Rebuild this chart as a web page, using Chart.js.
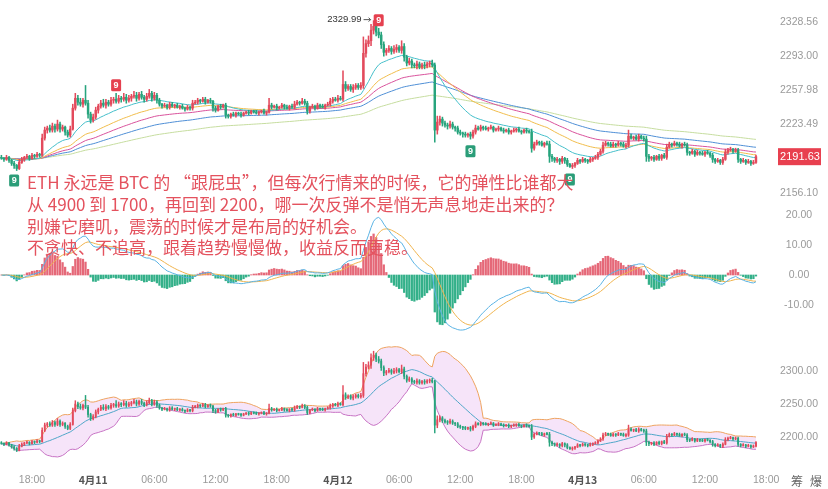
<!DOCTYPE html>
<html>
<head>
<meta charset="utf-8">
<script src="https://cdn.jsdelivr.net/npm/chart.js@4.4.1/dist/chart.umd.min.js"></script>
<style>
  html, body { margin: 0; padding: 0; background: #fff; }
  #wrap { position: relative; width: 828px; height: 489px; overflow: hidden; background: #fff; }
  canvas { position: absolute; left: 0; }
  #note {
    position: absolute; left: 27px; top: 171px;
    font-family: "Noto Sans CJK SC", sans-serif; font-size: 17px; line-height: 21.8px;
    color: #e4525e; white-space: nowrap; pointer-events: none;
  }
</style>
</head>
<body>
<div id="wrap">
  <canvas id="priceChart" width="828" height="200" style="top:0px"></canvas>
  <canvas id="macdChart" width="828" height="140" style="top:200px"></canvas>
  <canvas id="bollChart" width="828" height="149" style="top:340px"></canvas>
  <div id="note">ETH 永远是 BTC 的 “跟屁虫”，但每次行情来的时候，它的弹性比谁都大<br>从 4900 到 1700，再回到 2200，哪一次反弹不是悄无声息地走出来的？<br>别嫌它磨叽，震荡的时候才是布局的好机会。<br>不贪快、不追高，跟着趋势慢慢做，收益反而更稳。</div>
</div>
<script>
// ETH/USDT 15-minute candles, 4/10 15:00 -> 4/13 17:00
const firstHour = 15;        // hours after 4/10 00:00
const stepHours = 0.25;
const firstOpen = 2191;

const closes = [
  2190, 2189, 2191, 2188, 2185, 2183, 2180, 2186, 2189, 2191,
  2192, 2190, 2193, 2192, 2194, 2193, 2210, 2218, 2220, 2218,
  2222, 2219, 2224, 2219, 2221, 2216, 2213, 2219, 2240, 2250,
  2246, 2244, 2248, 2245, 2234, 2228, 2231, 2238, 2242, 2245,
  2243, 2246, 2244, 2248, 2249, 2247, 2250, 2249, 2251, 2248,
  2250, 2252, 2253, 2250, 2254, 2251, 2249, 2252, 2255, 2250,
  2253, 2248, 2244, 2242, 2243, 2241, 2244, 2242, 2243, 2241,
  2242, 2240, 2239, 2241, 2240, 2245, 2246, 2248, 2247, 2249,
  2246, 2248, 2247, 2240, 2238, 2242, 2241, 2243, 2233, 2232,
  2234, 2233, 2235, 2234, 2233, 2235, 2236, 2235, 2237, 2236,
  2235, 2236, 2237, 2235, 2236, 2243, 2241, 2242, 2240, 2241,
  2243, 2241, 2240, 2242, 2241, 2244, 2246, 2245, 2247, 2245,
  2237, 2241, 2242, 2240, 2243, 2242, 2241, 2243, 2244, 2247,
  2249, 2248, 2250, 2249, 2264, 2260, 2262, 2259, 2261, 2263,
  2261, 2263, 2296, 2306, 2309, 2320, 2324, 2318, 2315, 2305,
  2297, 2299, 2301, 2298, 2300, 2302, 2299, 2303, 2292, 2286,
  2288, 2284, 2283, 2285, 2282, 2284, 2283, 2285, 2286, 2284,
  2218, 2226, 2229, 2225, 2223, 2222, 2224, 2221, 2220, 2216,
  2215, 2214, 2213, 2214, 2212, 2216, 2220, 2219, 2221, 2220,
  2219, 2220, 2221, 2218, 2219, 2220, 2218, 2217, 2218, 2216,
  2217, 2218, 2219, 2217, 2216, 2218, 2217, 2216, 2200, 2204,
  2206, 2205, 2203, 2205, 2204, 2192, 2190, 2188, 2189, 2187,
  2190, 2188, 2184, 2182, 2183, 2185, 2188, 2187, 2189, 2188,
  2187, 2189, 2190, 2191, 2194, 2197, 2203, 2205, 2204, 2202,
  2204, 2203, 2205, 2204, 2202, 2203, 2212, 2210, 2211, 2209,
  2212, 2210, 2209, 2192, 2190, 2191, 2189, 2192, 2190, 2193,
  2191, 2201, 2204, 2203, 2205, 2204, 2202, 2204, 2203, 2196,
  2195, 2197, 2194, 2196, 2195, 2194, 2196, 2195, 2193, 2189,
  2187, 2188, 2186, 2189, 2196, 2198, 2199, 2197, 2198, 2189,
  2187, 2188, 2186, 2187, 2185, 2186, 2191.63
];

// wick length above max(open, close)
const upperWicks = [
  2,1,2,1,1,2,1,3,2,1,  2,1,2,1,2,1,4,3,2,3,  3,2,4,2,2,1,2,3,4,5,
  3,4,2,15,3,2,3,3,2,3, 4,3,2,3,2,6,3,2,4,3,  3,2,4,3,2,3,2,3,4,2,
  3,2,2,1,2,1,2,2,1,2,  1,2,1,2,1,3,2,2,1,2,  2,1,2,1,2,1,2,1,2,1,
  1,2,1,1,2,1,1,2,1,1,  2,1,1,2,1,7,2,1,2,1,  2,1,2,1,2,3,2,1,3,2,
  2,1,2,1,2,1,2,1,2,3,  2,2,3,2,14,3,2,2,3,2, 2,3,17,4,5,6,5.99,3,4,3,
  3,2,3,2,4,3,2,6,3,2,  3,2,2,3,2,2,3,2,2,3,  2,6,3,2,2,2,3,2,1,2,
  2,1,2,1,2,2,3,2,2,1,  2,1,2,1,1,2,1,2,1,2,  1,2,1,2,1,1,2,1,3,2,
  2,1,2,1,2,3,2,1,2,1,  2,1,2,1,2,1,2,1,2,1,  1,2,1,2,2,2,3,2,1,2,
  2,1,2,1,2,2,6,2,1,2,  2,1,2,3,2,1,2,1,2,1,  2,3,2,1,2,1,2,1,2,2,
  1,2,1,2,1,2,1,2,1,2,  1,2,1,2,3,2,2,1,2,2,  1,2,1,2,1,2,1.5
];

// wick length below min(open, close)
const lowerWicks = [
  1,2,1,2,2,3,2,1,1,2,  1,2,1,2,1,2,1,2,3,2,  2,3,2,3,2,3,2,2,1,2,
  3,2,3,2,4,3,2,2,3,2,  2,3,2,2,3,2,2,3,2,3,  2,3,2,3,2,2,3,2,2,3,
  2,3,2,2,1,2,2,1,2,1,  2,1,2,1,2,2,1,2,2,1,  2,1,2,3,2,1,2,1,3,2,
  2,1,2,1,2,1,1,2,1,1,  1,2,1,1,2,1,2,1,2,1,  1,2,1,2,1,2,1,2,1,2,
  3,2,1,2,1,2,1,2,1,2,  2,1,2,1,2,3,2,2,3,2,  2,2,3,4,3,5,4,4,3,4,
  4,3,2,3,2,3,2,3,4,3,  2,3,2,3,2,2,3,2,3,2,  12,4,3,3,2,3,2,2,3,2,
  2,3,2,2,3,2,2,1,2,2,  1,2,1,2,1,2,1,2,1,2,  2,1,2,1,2,1,2,1,4,2,
  1,2,1,2,1,6,3,2,2,3,  2,3,2,1,2,2,1,2,1,2,  2,1,2,1,2,1,2,1,2,1,
  1,2,1,2,1,2,2,1,2,1,  2,1,2,5,3,2,2,1,2,2,  1,2,1,2,1,2,1,2,1,3,
  2,1,2,1,2,1,2,1,2,3,  2,1,2,2,1,2,1,2,1,3,  2,1,2,1,2,1,1
];

// right-hand scale labels
const priceTicks = [2328.56, 2293.00, 2257.98, 2223.49, 2156.10];
const macdTicks = [20, 10, 0, -10];
const bollTicks = [2300, 2250, 2200];
// time axis, hours after 4/10 00:00
const timeTicks = [18, 24, 30, 36, 42, 48, 54, 60, 66, 72, 78, 84, 90];

// TD sequential "9" counts (candle index, above = sell setup)
const tdNines = [
  { i: 5, above: false }, { i: 45, above: true }, { i: 148, above: true },
  { i: 184, above: false }, { i: 223, above: false }
];

// moving averages on the price panel
const maPeriods = [20, 40, 60, 90, 150];
const maColors = ['#45bfca', '#f1bd4c', '#d9529c', '#4f8fd6', '#c6dd9f'];

const UP = '#e34a5c', DOWN = '#27a47d';

// ---- derived series ----
const n = closes.length;
const xs = closes.map((_, i) => firstHour + i * stepHours);
const opens = closes.map((c, i) => i === 0 ? firstOpen : closes[i - 1]);
const highs = closes.map((c, i) => Math.max(opens[i], c) + upperWicks[i]);
const lows = closes.map((c, i) => Math.min(opens[i], c) - lowerWicks[i]);
const isUp = closes.map((c, i) => c >= opens[i]);

function ema(src, period) {
  const k = 2 / (period + 1);
  const out = [];
  src.forEach((v, i) => out.push(i === 0 ? v : out[i - 1] + k * (v - out[i - 1])));
  return out;
}
// MACD(12, 26, 9), histogram drawn as 2 * (DIF - DEA)
const ema12 = ema(closes, 12), ema26 = ema(closes, 26);
const dif = closes.map((_, i) => ema12[i] - ema26[i]);
const dea = ema(dif, 9);
const hist = dif.map((d, i) => 2 * (d - dea[i]));

// BOLL(20, 2)
const bollMid = [], bollUp = [], bollLo = [];
closes.forEach((_, i) => {
  const w = closes.slice(Math.max(0, i - 19), i + 1);
  const m = w.reduce((a, b) => a + b, 0) / w.length;
  const sd = Math.sqrt(w.reduce((a, b) => a + (b - m) * (b - m), 0) / w.length);
  bollMid.push(m); bollUp.push(m + 2 * sd); bollLo.push(m - 2 * sd);
});

const pts = arr => arr.map((v, i) => ({ x: xs[i], y: v }));

// ---- layout ----
const X_MIN = 14.863, X_MAX = 91.16;
const LABEL_X = 799;
Chart.defaults.font.family = '"Liberation Sans", Arial, sans-serif';

const xScale = { type: 'linear', min: X_MIN, max: X_MAX, offset: false, display: false };

const rightLabels = {
  id: 'rightLabels',
  afterDraw(chart, args, opts) {
    const { ctx } = chart, y = chart.scales.y;
    ctx.save();
    ctx.font = '10.5px "Liberation Sans", Arial, sans-serif';
    ctx.fillStyle = '#9a9a9a';
    ctx.textAlign = 'center';
    ctx.textBaseline = 'middle';
    opts.ticks.forEach(v => ctx.fillText(v.toFixed(2), LABEL_X, y.getPixelForValue(v)));
    ctx.restore();
  }
};

function roundRect(ctx, x, y, w, h, r) {
  ctx.beginPath();
  ctx.moveTo(x + r, y);
  ctx.arcTo(x + w, y, x + w, y + h, r);
  ctx.arcTo(x + w, y + h, x, y + h, r);
  ctx.arcTo(x, y + h, x, y, r);
  ctx.arcTo(x, y, x + w, y, r);
  ctx.closePath();
}

const priceMarks = {
  id: 'priceMarks',
  afterDatasetsDraw(chart) {
    const { ctx } = chart, xS = chart.scales.x, yS = chart.scales.y;
    ctx.save();
    // TD nine badges
    tdNines.forEach(m => {
      const cx = xS.getPixelForValue(xs[m.i]);
      const cy = m.above ? yS.getPixelForValue(highs[m.i]) - 8 : yS.getPixelForValue(lows[m.i]) + 12;
      ctx.fillStyle = m.above ? '#e5404f' : '#2a9d78';
      roundRect(ctx, cx - 5, cy - 6, 10, 12, 1.5);
      ctx.fill();
      ctx.fillStyle = '#fff';
      ctx.font = 'bold 9px "Liberation Sans", Arial, sans-serif';
      ctx.textAlign = 'center'; ctx.textBaseline = 'middle';
      ctx.fillText('9', cx, cy + 0.5);
    });
    // highest price note
    let top = 0;
    highs.forEach((h, i) => { if (h > highs[top]) top = i; });
    const px = xS.getPixelForValue(xs[top]), py = yS.getPixelForValue(highs[top]);
    ctx.font = '9.5px "Liberation Sans", Arial, sans-serif';
    ctx.fillStyle = '#333';
    ctx.textAlign = 'right'; ctx.textBaseline = 'middle';
    ctx.fillText(highs[top].toFixed(2), px - 12, py - 1);
    ctx.strokeStyle = '#555'; ctx.lineWidth = 1;
    ctx.beginPath(); ctx.moveTo(px - 10, py - 1); ctx.lineTo(px - 3, py - 1); ctx.stroke();
    ctx.beginPath(); ctx.moveTo(px - 5, py - 3); ctx.lineTo(px - 3, py - 1); ctx.lineTo(px - 5, py + 1); ctx.stroke();
    // last price tag
    const last = closes[n - 1], ly = yS.getPixelForValue(last);
    ctx.fillStyle = '#e8404f';
    ctx.fillRect(778, ly - 8.5, 43, 17);
    ctx.fillStyle = '#fff';
    ctx.font = '11px "Liberation Sans", Arial, sans-serif';
    ctx.textAlign = 'center';
    ctx.fillText(last.toFixed(2), 800, ly + 0.5);
    ctx.restore();
  }
};

const timeLabels = {
  id: 'timeLabels',
  afterDraw(chart) {
    const { ctx, chartArea } = chart, xS = chart.scales.x;
    ctx.save();
    ctx.textAlign = 'center'; ctx.textBaseline = 'middle';
    const ty = chartArea.bottom + 18;
    timeTicks.forEach(t => {
      const h = t % 24;
      const x = xS.getPixelForValue(t);
      if (h === 0) {
        ctx.font = 'bold 10.5px "Noto Sans CJK SC", sans-serif';
        ctx.fillStyle = '#555';
        ctx.fillText('4月' + (10 + t / 24), x, ty);
      } else {
        ctx.font = '10.5px "Liberation Sans", Arial, sans-serif';
        ctx.fillStyle = '#999';
        ctx.fillText(String(h).padStart(2, '0') + ':00', x, ty);
      }
    });
    ctx.font = '12px "Noto Sans CJK SC", sans-serif';
    ctx.fillStyle = '#666';
    ctx.fillText('筹', 797, ty + 1);
    ctx.fillText('爆', 816, ty + 1);
    ctx.restore();
  }
};

function candleSets(bodyW, wickW) {
  const col = i => isUp[i] ? UP : DOWN;
  return [
    {
      type: 'bar', data: closes.map((c, i) => ({ x: xs[i], y: [opens[i], c] })),
      backgroundColor: closes.map((_, i) => col(i)), barThickness: bodyW, minBarLength: 1,
      grouped: false, borderWidth: 0
    },
    {
      type: 'bar', data: closes.map((c, i) => ({ x: xs[i], y: [lows[i], highs[i]] })),
      backgroundColor: closes.map((_, i) => col(i)), barThickness: wickW,
      grouped: false, borderWidth: 0
    }
  ];
}

const lineSet = (data, color) => ({
  type: 'line', data: pts(data), borderColor: color, borderWidth: 1,
  pointRadius: 0, tension: 0, fill: false
});

const common = {
  responsive: false, animation: false, devicePixelRatio: 1,
  events: [],
  layout: { padding: { right: 50, left: 0, top: 0, bottom: 0 } }
};

// price panel
new Chart(document.getElementById('priceChart'), {
  type: 'bar',
  data: {
    datasets: [
      ...candleSets(1.8, 0.9),
      ...maPeriods.map((p, k) => lineSet(ema(closes, p), maColors[k]))
    ]
  },
  options: {
    ...common,
    scales: {
      x: xScale,
      y: { type: 'logarithmic', min: 2149.32, max: 2351.73, display: false }
    },
    plugins: { legend: { display: false }, tooltip: { enabled: false }, rightLabels: { ticks: priceTicks } }
  },
  plugins: [rightLabels, priceMarks]
});

// MACD panel
new Chart(document.getElementById('macdChart'), {
  type: 'bar',
  data: {
    datasets: [
      lineSet(dif, '#5ab3e4'),
      lineSet(dea, '#f0b44e'),
      {
        type: 'bar', data: pts(hist), barThickness: 1.6, grouped: false, borderWidth: 0,
        backgroundColor: hist.map(v => v >= 0 ? '#e56878' : '#33b089')
      }
    ]
  },
  options: {
    ...common,
    scales: { x: xScale, y: { type: 'linear', min: -21.667, max: 25, display: false } },
    plugins: { legend: { display: false }, tooltip: { enabled: false }, rightLabels: { ticks: macdTicks } }
  },
  plugins: [rightLabels]
});

// Bollinger panel
new Chart(document.getElementById('bollChart'), {
  type: 'bar',
  data: {
    datasets: [
      ...candleSets(1.2, 0.8),
      lineSet(bollMid, '#4ea6c8'),
      lineSet(bollUp, '#eea35f'),
      { ...lineSet(bollLo, '#c773c4'), fill: '-1', backgroundColor: 'rgba(226,170,236,0.32)' }
    ]
  },
  options: {
    ...common,
    layout: { padding: { right: 50, left: 0, top: 0, bottom: 27 } },
    scales: { x: xScale, y: { type: 'linear', min: 2162.12, max: 2346.97, display: false } },
    plugins: { legend: { display: false }, tooltip: { enabled: false }, rightLabels: { ticks: bollTicks } }
  },
  plugins: [rightLabels, timeLabels]
});
</script>
</body>
</html>
